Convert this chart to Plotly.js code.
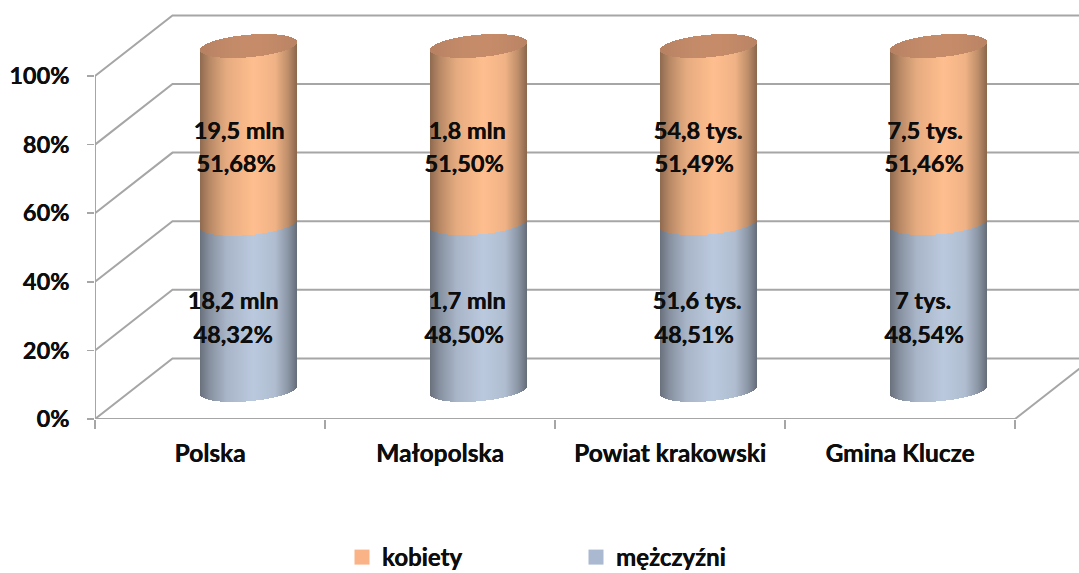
<!DOCTYPE html>
<html><head><meta charset="utf-8">
<script src="https://cdn.plot.ly/plotly-3.0.1.min.js"></script>
<style>html,body{margin:0;padding:0;background:#fff;overflow:hidden;height:573px}</style>
</head><body><div id="chart" style="width:1079px;height:573px;overflow:hidden"></div>
<script>
// ---- data ----
const categories = ["Polska", "Małopolska", "Powiat krakowski", "Gmina Klucze"];
const seriesNames = ["kobiety", "mężczyźni"];
const kobiety = [51.68, 51.50, 51.49, 51.46];
const mezczyzni = [48.32, 48.50, 48.51, 48.54];
const kobietyCount = ["19,5 mln", "1,8 mln", "54,8 tys.", "7,5 tys."];
const mezczyzniCount = ["18,2 mln", "1,7 mln", "51,6 tys.", "7 tys."];
const kobietyPct = ["51,68%", "51,50%", "51,49%", "51,46%"];
const mezczyzniPct = ["48,32%", "48,50%", "48,51%", "48,54%"];
const yTicks = [0, 20, 40, 60, 80, 100];

// ---- geometry (pixels of the 1079x573 frame; the layout runs a little past the
// bottom edge so the legend box does not push the plot area) ----
const W = 1079, H = 600, L = 95, T = 5, B = 419;
const catPx = 230, yPx = 3.43;           // front plane scale
const depthX = 77.5, depthY = 60.6;      // wall depth
const barC0 = 248.5, barW = 97, barZero = 390, barPx = 3.44; // cylinder plane
const tilt = 4, semi = 11.3;             // cap ellipse
const FONT = "Lato, Carlito, Calibri, sans-serif", INK = "#0d0d0d", GRID = "#a6a6a6";
const THICK = "0.35px 0 0 #0d0d0d";

const wallX = p => (p - L) / catPx - 0.5;
const edge = t => ({ low: (tilt * t - semi * Math.sqrt(Math.max(0, 1 - t * t))) / barPx,
                     span: 2 * semi * Math.sqrt(Math.max(0, 1 - t * t)) / barPx });
const stops = [[-1, .56], [-.8, .72], [-.45, .90], [.1, 1], [.55, .94], [.82, .74], [1, .54]];
function shade(t) {
  for (let i = 1; i < stops.length; i++) if (t <= stops[i][0]) {
    const a = stops[i - 1], b = stops[i], f = (t - a[0]) / (b[0] - a[0]);
    return a[1] + (b[1] - a[1]) * f;
  }
  return stops[stops.length - 1][1];
}
const rgb = (c, k) => `rgb(${c.map(v => Math.round(v * k)).join(",")})`;

// ---- strips of each cylinder, on the shifted cylinder axes ----
const N = 97, stripW = 1.04 / catPx;
const men = { x: [], base: [], y: [], c: [] }, women = { x: [], base: [], y: [], c: [] }, cap = { x: [], base: [], y: [], c: [] };
categories.forEach((_, i) => {
  for (let s = 0; s < N; s++) {
    const t = -1 + 2 * (s + .5) / N, x = i + t * barW / 2 / catPx, e = edge(t), k = shade(t);
    men.x.push(x); men.base.push(e.low); men.y.push(mezczyzni[i]); men.c.push(rgb([187, 201, 222], k));
    women.x.push(x); women.base.push(mezczyzni[i] + e.low); women.y.push(kobiety[i]); women.c.push(rgb([255, 190, 142], k));
    cap.x.push(x); cap.base.push(mezczyzni[i] + kobiety[i] + e.low); cap.y.push(e.span);
    cap.c.push(rgb([198, 140, 106], .92 + .08 * Math.sin((t + 1) * 1.5)));
  }
});
const strip = (d, n) => ({ type: "bar", name: n, x: d.x, y: d.y, base: d.base, width: stripW, xaxis: "x3", yaxis: "y2",
  marker: { color: d.c, line: { width: 0 } }, showlegend: false, hoverinfo: "skip" });

// ---- walls ----
const wall = { x: [], y: [] };
yTicks.forEach(v => {
  wall.x.push(wallX(L), wallX(L + depthX), wallX(W + 5), null);
  wall.y.push(v, v + depthY / yPx, v + depthY / yPx, null);
});
wall.x.push(wallX(L), wallX(L), null, wallX(L), wallX(L + 4 * catPx), wallX(L + 4 * catPx + depthX));
wall.y.push(0, 100, null, 0, 0, depthY / yPx);
const wallTrace = { type: "scatter", mode: "lines", x: wall.x, y: wall.y, xaxis: "x2", yaxis: "y", cliponaxis: false,
  line: { color: GRID, width: 2 }, showlegend: false, hoverinfo: "skip" };

// ---- data labels ----
const labelTrace = (txt, dxPx, yPxPos) => ({ type: "scatter", mode: "text", xaxis: "x3", yaxis: "y2", cliponaxis: false,
  x: categories.map((_, i) => i + dxPx[i] / catPx), y: categories.map(() => (barZero - yPxPos) / barPx),
  text: txt, textposition: "middle center", textfont: { family: FONT, size: 23.5, color: INK, weight: 700, shadow: THICK },
  showlegend: false, hoverinfo: "skip" });

// ---- legend keys ----
const legendKey = (n, c) => ({ type: "scatter", mode: "markers", name: n, x: [-9], y: [-99], xaxis: "x2", yaxis: "y",
  marker: { symbol: "square", size: 15, color: c }, hoverinfo: "skip" });

const data = [
  { type: "scatter", mode: "markers", x: categories, y: categories.map(() => -99), marker: { opacity: 0 }, showlegend: false, hoverinfo: "skip" },
  wallTrace,
  legendKey(seriesNames[0], "#f9b386"), legendKey(seriesNames[1], "#aab9cf"),
  strip(men, seriesNames[1]), strip(women, seriesNames[0]), strip(cap, "cap"),
  labelTrace(kobietyCount, [-9.5, -11.5, -10.5, -13.5], 133),
  labelTrace(kobietyPct, [-12.5, -14.5, -14.5, -14.5], 166),
  labelTrace(mezczyzniCount, [-15.5, -11.5, -11.5, -15.5], 303),
  labelTrace(mezczyzniPct, [-15.5, -14.5, -14.5, -14.5], 337)
];

const plotW = W - L, plotH = B - T;
const layout = {
  width: W, height: H, autosize: false, paper_bgcolor: "#fff", plot_bgcolor: "rgba(0,0,0,0)",
  margin: { l: L, r: 0, t: T, b: H - B, pad: 0 }, barmode: "overlay", bargap: 0,
  font: { family: FONT, color: INK, size: 22 },
  xaxis: { type: "category", categoryorder: "array", categoryarray: categories, tickson: "boundaries",
    range: [-0.5, -0.5 + plotW / catPx], showgrid: false, zeroline: false, showline: false,
    ticks: "outside", ticklen: 9, tickwidth: 1.5, tickcolor: GRID, ticklabelstandoff: 17,
    tickfont: { family: FONT, size: 24.5, color: INK, weight: 700, shadow: THICK }, fixedrange: true },
  xaxis2: { type: "linear", overlaying: "x", visible: false, range: [-0.5, -0.5 + plotW / catPx], fixedrange: true },
  xaxis3: { type: "linear", overlaying: "x", visible: false,
    range: [(L - barC0) / catPx, (W - barC0) / catPx], fixedrange: true },
  yaxis: { type: "linear", range: [0, plotH / yPx], tickmode: "array", tickvals: yTicks, ticktext: yTicks.map(v => v + "%"),
    showgrid: false, zeroline: false, showline: false, ticks: "outside", ticklen: 7, tickwidth: 1.5, tickcolor: GRID,
    ticklabelstandoff: 13, tickfont: { family: FONT, size: 23.5, color: INK, weight: 700, shadow: THICK }, fixedrange: true },
  yaxis2: { type: "linear", overlaying: "y", visible: false,
    range: [(barZero - B) / barPx, (barZero - T) / barPx], fixedrange: true },
  showlegend: true,
  legend: { orientation: "h", x: (342 - L) / plotW, xanchor: "left", y: (B - 535) / plotH, yanchor: "top",
    entrywidth: 189, entrywidthmode: "pixels", bgcolor: "rgba(0,0,0,0)", traceorder: "normal", itemsizing: "trace",
    font: { family: FONT, size: 24, color: INK, weight: 700, shadow: THICK } },
  hovermode: false
};
Plotly.newPlot("chart", data, layout, { displayModeBar: false, staticPlot: true, responsive: false });
</script></body></html>
